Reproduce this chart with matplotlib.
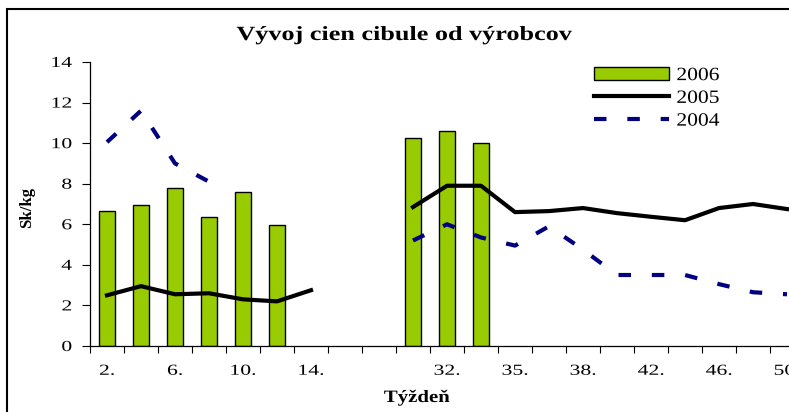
import numpy as np
import matplotlib
matplotlib.use("Agg")
import matplotlib.pyplot as plt
from matplotlib.patheffects import AbstractPathEffect
from matplotlib.transforms import Affine2D

nan = np.nan

# week categories (only every second label is shown on the axis)
weeks = ["2.", "4.", "6.", "8.", "10.", "12.", "14.", "16.", "", "30.", "32.",
         "33.", "35.", "36.", "38.", "40.", "42.", "44.", "46.", "48.", "50."]

# prices Sk/kg
y2006 = [6.65, 6.95, 7.8, 6.35, 7.57, 5.96, nan, nan, nan, 10.25, 10.6,
         10.0, nan, nan, nan, nan, nan, nan, nan, nan, nan]
y2005 = [2.5, 2.95, 2.55, 2.6, 2.3, 2.2, 2.75, nan, nan, 6.85, 7.9,
         7.9, 6.6, 6.65, 6.8, 6.55, 6.37, 6.2, 6.8, 7.0, 6.75]
y2004 = [10.05, 11.6, 9.0, 8.1, nan, nan, nan, nan, nan, 5.2, 6.0,
         5.35, 4.95, 5.9, 4.75, 3.5, 3.5, 3.5, 3.05, 2.65, 2.55]


class Widen(AbstractPathEffect):
    """Stretch glyphs horizontally (the source chart was stretched sideways)."""

    def __init__(self, sx, align=0.5):
        super().__init__()
        self.sx = sx
        self.align = align

    def draw_path(self, renderer, gc, tpath, affine, rgbFace=None):
        ext = tpath.get_extents()
        p = ext.x0 + ext.width * self.align
        t = Affine2D().scale(self.sx, 1).translate(-(self.sx - 1) * p, 0) + affine
        renderer.draw_path(gc, tpath, t, rgbFace)


plt.rcParams["font.family"] = ["Liberation Serif", "DejaVu Serif"]

fig = plt.figure(figsize=(7.89, 4.12), dpi=100)
ax = fig.add_axes([90 / 789, 1 - 346 / 412, 714 / 789, 284 / 412])

x = np.arange(len(weeks))
bars = ax.bar(x, y2006, width=0.45, color="#99CC00", edgecolor="black",
              linewidth=1.0, label="2006", zorder=2)
l05, = ax.plot(x, y2005, color="black", lw=3, label="2005", zorder=3)
l04, = ax.plot(x, y2004, color="#000080", lw=3, linestyle=(0, (3, 5)),
               dash_capstyle="butt", label="2004", zorder=3)

ax.set_xlim(-0.5, len(weeks) - 0.5)
ax.set_ylim(0, 14)
ax.set_yticks(np.arange(0, 15, 2))
ax.tick_params(axis="y", length=6, width=0.8, pad=7, labelsize=11)

# tick marks between categories, labels on every second category
ax.set_xticks(np.arange(-0.5, len(weeks), 1))
ax.set_xticklabels([])
ax.set_xticks(x[::2], minor=True)
ax.set_xticklabels(weeks[::2], minor=True)
ax.tick_params(axis="x", which="major", length=5, width=0.8)
ax.tick_params(axis="x", which="minor", length=0, pad=13.5, labelsize=11)

for t in ax.get_yticklabels():
    t.set_path_effects([Widen(1.42, align=1.0)])
for t in ax.get_xticklabels(minor=True):
    t.set_path_effects([Widen(1.42)])

for s in ["top", "right"]:
    ax.spines[s].set_visible(False)
for s in ["left", "bottom"]:
    ax.spines[s].set_linewidth(0.9)

fig.text(404 / 789, 1 - 35 / 412, "Vývoj cien cibule od výrobcov",
         ha="center", va="center", fontsize=14.5, fontweight="bold",
         path_effects=[Widen(1.3)])
fig.text(27 / 789, 1 - 208 / 412, "Sk/kg", rotation=90,
         ha="center", va="center", fontsize=12, fontweight="bold")
fig.text(417 / 789, 1 - 398 / 412, "Týždeň",
         ha="center", va="center", fontsize=12.5, fontweight="bold",
         path_effects=[Widen(1.2)])

leg = ax.legend([bars, l05, l04], ["2006", "2005", "2004"],
                loc="upper left", bbox_to_anchor=(594 / 789, 1 - 67 / 412),
                bbox_transform=fig.transFigure, frameon=False, fontsize=13.5,
                borderpad=0, borderaxespad=0, handlelength=4.0,
                handletextpad=0.4, labelspacing=0.3)
for t in leg.get_texts():
    t.set_path_effects([Widen(1.15, align=0.0)])

# outer chart border (cut by the image edge on right and bottom)
fig.patches.append(plt.Rectangle((7 / 789, -0.1), 2, 1 - 9 / 412 + 0.1,
                                 transform=fig.transFigure, fill=False,
                                 lw=1.5, edgecolor="black"))

fig.savefig("out.png", dpi=100)
